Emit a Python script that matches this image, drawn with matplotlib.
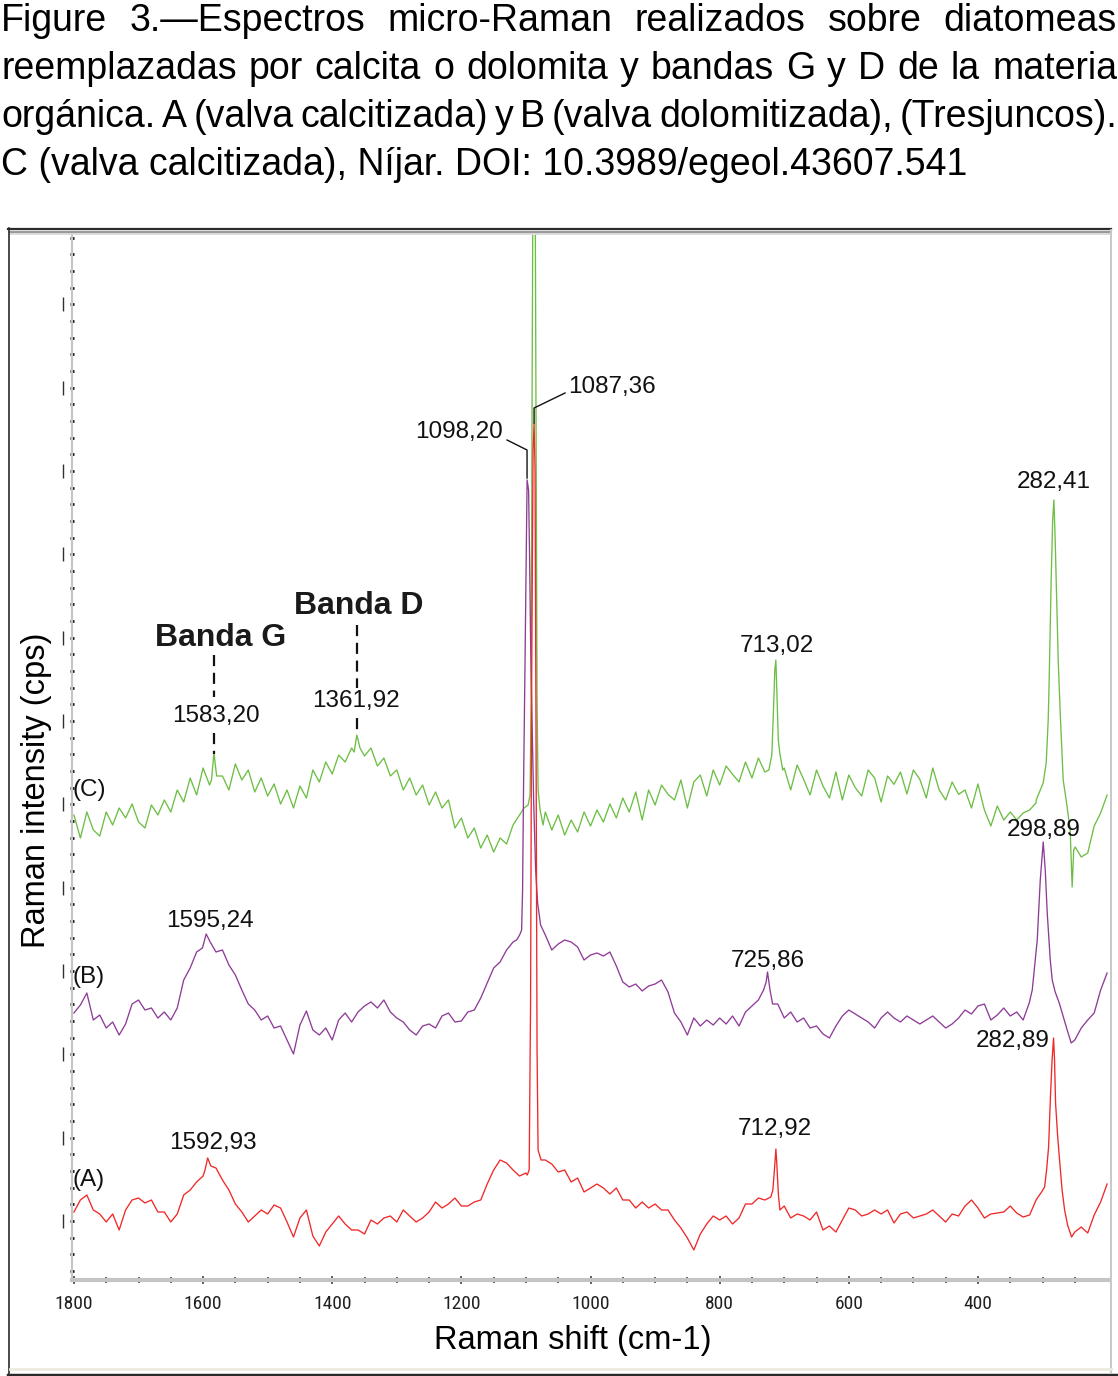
import numpy as np
import matplotlib
matplotlib.use("Agg")
import matplotlib.pyplot as plt
from matplotlib import font_manager
from matplotlib.ticker import FixedLocator, MultipleLocator
from matplotlib.transforms import blended_transform_factory
from matplotlib.lines import Line2D

# ---- datos (Raman shift en cm-1, intensidad en cps) ----
shift_grid = np.arange(1800, 199, -10)

red_counts = [554, 626, 656, 566, 542, 494, 542, 446, 566, 626,
              638, 608, 626, 554, 554, 494, 542, 656, 686, 734,
              770, 854, 818, 746, 686, 602, 554, 494, 530, 566,
              542, 596, 578, 494, 404, 518, 566, 410, 350, 434,
              482, 530, 482, 446, 446, 422, 506, 482, 518, 530,
              494, 566, 530, 494, 518, 554, 614, 578, 602, 638,
              590, 590, 614, 626, 722, 806, 866, 848, 806, 770,
              788, 1800, 1200, 866, 842, 794, 806, 734, 758, 674,
              698, 722, 698, 662, 698, 626, 626, 578, 614, 578,
              602, 566, 566, 506, 458, 398, 326, 422, 482, 530,
              506, 530, 482, 518, 602, 602, 638, 626, 662, 900,
              590, 518, 542, 530, 506, 554, 446, 470, 434, 506,
              578, 566, 530, 542, 566, 542, 566, 488, 542, 554,
              518, 530, 542, 566, 530, 494, 542, 530, 590, 626,
              578, 518, 542, 548, 554, 590, 548, 524, 536, 626,
              700, 1000, 1500, 1100, 560, 434, 464, 428, 536, 614,
              722]

purple_counts = [1748, 1796, 1868, 1706, 1736, 1658, 1694, 1616, 1682, 1802,
                 1826, 1766, 1778, 1718, 1754, 1706, 1778, 1946, 2018, 2114,
                 2126, 2210, 2114, 2126, 2036, 1976, 1886, 1802, 1766, 1706,
                 1730, 1658, 1670, 1586, 1502, 1676, 1760, 1646, 1616, 1658,
                 1586, 1706, 1748, 1694, 1754, 1790, 1814, 1778, 1826, 1754,
                 1718, 1694, 1646, 1616, 1670, 1682, 1658, 1730, 1748, 1694,
                 1700, 1754, 1766, 1838, 1928, 2018, 2054, 2126, 2174, 2216,
                 3000, 3000, 2408, 2216, 2126, 2162, 2186, 2174, 2144, 2066,
                 2096, 2108, 2090, 2114, 2030, 1934, 1904, 1922, 1880, 1910,
                 1922, 1946, 1874, 1748, 1694, 1616, 1718, 1670, 1706, 1676,
                 1718, 1682, 1730, 1670, 1754, 1790, 1826, 1916, 1958, 1802,
                 1718, 1754, 1694, 1718, 1658, 1670, 1622, 1598, 1670, 1730,
                 1766, 1742, 1718, 1694, 1658, 1718, 1754, 1718, 1694, 1730,
                 1706, 1682, 1706, 1730, 1694, 1658, 1682, 1718, 1766, 1742,
                 1790, 1802, 1706, 1736, 1778, 1730, 1754, 1706, 2000, 2000,
                 2700, 2400, 1900, 1800, 1700, 1586, 1658, 1706, 1748, 1886,
                 1988]

green_counts = [2936, 2798, 2954, 2846, 2810, 2954, 2876, 2978, 2918, 3002,
                2894, 2858, 2996, 2936, 3026, 2954, 3086, 3014, 3158, 3056,
                3218, 3116, 3194, 3170, 3086, 3242, 3146, 3206, 3074, 3158,
                3050, 3122, 3002, 3086, 2978, 3110, 3038, 3206, 3134, 3254,
                3182, 3296, 3254, 3338, 3386, 3290, 3338, 3230, 3278, 3170,
                3206, 3086, 3158, 3056, 3116, 2996, 3074, 2978, 3026, 2858,
                2918, 2798, 2858, 2738, 2816, 2714, 2798, 2762, 2876, 2936,
                2978, 5000, 5000, 2954, 2846, 2936, 2816, 2906, 2834, 2954,
                2870, 2966, 2894, 3002, 2918, 3038, 2954, 3074, 2906, 3086,
                2996, 3116, 3060, 3026, 3146, 2978, 3134, 3176, 3050, 3206,
                3116, 3230, 3180, 3134, 3254, 3158, 3278, 3194, 3314, 3800,
                3218, 3086, 3236, 3150, 3056, 3206, 3110, 3038, 3194, 3026,
                3176, 3100, 3050, 3206, 3158, 3014, 3170, 3120, 3194, 3062,
                3206, 3150, 3038, 3218, 3086, 3026, 3134, 3060, 3086, 2978,
                3122, 2966, 2870, 2990, 2906, 2954, 2906, 2948, 2966, 3008,
                3116, 3500, 4500, 3500, 3000, 2800, 2684, 2708, 2870, 2948,
                3056]

# bandas (puntos finos alrededor de cada pico)
red_1593_shift = [1597, 1592.9, 1588]
red_1593_counts = [806, 878, 830]
red_1087_shift = [1098, 1095, 1092.8, 1091.3, 1089, 1087.4, 1085.9, 1084.3, 1082.8, 1081.2, 1076.6]
red_1087_counts = [776, 806, 1826, 3626, 5126, 5288, 5006, 3326, 1526, 926, 866]
red_713_shift = [720.7, 717.6, 715.2, 712.9, 711.4, 709.0, 706.7]
red_713_counts = [644, 686, 806, 932, 836, 656, 566]
red_283_shift = [301.5, 296.8, 293.7, 290.6, 287.5, 285.2, 282.9, 281.4, 279.8, 276.7, 273.6, 269.7, 265.8, 261.2, 255.0]
red_283_counts = [674, 704, 806, 944, 1268, 1466, 1598, 1466, 1208, 1016, 866, 686, 566, 476, 404]

purple_1595_shift = [1601, 1595.2, 1589]
purple_1595_counts = [2138, 2222, 2174]
purple_1098_shift = [1114.5, 1109.8, 1106.7, 1105.2, 1103.6, 1102.1, 1099.7, 1098.2, 1095.9, 1094.3,
                     1092.8, 1091.2, 1088.1, 1085.0, 1081.9, 1077.3]
purple_1098_counts = [2186, 2216, 2246, 2486, 3146, 3626, 4466, 4946, 4886, 4466,
                      3986, 3626, 3026, 2606, 2408, 2276]
purple_726_shift = [732, 728, 725.9, 722, 718]
purple_726_counts = [1886, 1934, 1994, 1886, 1802]
purple_299_shift = [320.6, 315.9, 312.8, 308.2, 303.5, 298.9, 295.8, 292.7, 288.0, 285.0,
                    280.4, 274.1, 266.4, 261.8, 255.6]
purple_299_counts = [1808, 1886, 2006, 2186, 2546, 2774, 2606, 2348, 2066, 1946,
                     1874, 1808, 1706, 1646, 1568]

green_1583_shift = [1587, 1583.2, 1579]
green_1583_counts = [3146, 3308, 3170]
green_1362_shift = [1366, 1361.9, 1357]
green_1362_counts = [3314, 3416, 3338]
green_1087_shift = [1102.9, 1096.7, 1093.6, 1092, 1090.5, 1089, 1087.4, 1085.9, 1084.3, 1082.8,
                    1081.2, 1078.1, 1073.5]
green_1087_counts = [2978, 2996, 3056, 3626, 5426, 6926, 9026, 6926, 5126, 3626,
                     3086, 2966, 2876]
green_713_shift = [723.8, 719.2, 716.1, 714.6, 713.0, 711.5, 709.2, 706.9, 702.3]
green_713_counts = [3206, 3296, 3626, 3806, 3866, 3686, 3386, 3308, 3206]
green_282_shift = [309.8, 299, 294.3, 291.2, 289.7, 286.6, 284.3, 282.4, 280.4, 278.8,
                   275.7, 272.6, 268, 263.4, 257.2, 254.1, 251.7, 249.4]
green_282_counts = [3026, 3128, 3248, 3506, 3746, 4346, 4706, 4826, 4586, 4346,
                    3866, 3548, 3146, 3026, 2846, 2504, 2726, 2744]

caption = ["Figure 3.\u2014Espectros micro-Raman realizados sobre diatomeas",
           "reemplazadas por calcita o dolomita y bandas G y D de la materia",
           "orgánica. A (valva calcitizada) y B (valva dolomitizada), (Tresjuncos).",
           "C (valva calcitizada), Níjar. DOI: 10.3989/egeol.43607.541"]

x_major = [1800, 1600, 1400, 1200, 1000, 800, 600, 400]


def spectrum(counts, bands):
    x = np.asarray(shift_grid, float)
    y = np.asarray(counts, float)
    keep = np.ones(len(x), bool)
    for bx, by in bands:
        keep &= ~((x > min(bx)) & (x < max(bx)))
    xs = np.concatenate([x[keep]] + [np.asarray(b[0], float) for b in bands])
    ys = np.concatenate([y[keep]] + [np.asarray(b[1], float) for b in bands])
    o = np.argsort(-xs)
    return xs[o], ys[o]


# fuente estrecha para los números del eje x, si hay alguna
narrow = None
for name in ['Liberation Sans Narrow', 'Roboto Condensed', 'Open Sans Condensed', 'Arial Narrow']:
    try:
        font_manager.findfont(font_manager.FontProperties(family=name), fallback_to_default=False)
        narrow = dict(family=[name, 'DejaVu Sans'])
        break
    except ValueError:
        pass
if narrow is None:
    p = font_manager.findfont(font_manager.FontProperties(family='DejaVu Sans', stretch='condensed'))
    if 'Condensed' in p:
        narrow = dict(family=['DejaVu Sans'], stretch='condensed')
    else:
        narrow = dict(family=['Liberation Sans', 'DejaVu Sans'])

W, H = 1118, 1376
plt.rcParams['font.family'] = ['Liberation Sans', 'DejaVu Sans']
fig = plt.figure(figsize=(W / 100, H / 100), dpi=100)
ax = fig.add_axes([72 / W, 1 - 1280 / H, 1036 / W, (1280 - 235) / H])

green_x, green_y = spectrum(green_counts, [(green_1583_shift, green_1583_counts),
                                           (green_1362_shift, green_1362_counts),
                                           (green_1087_shift, green_1087_counts),
                                           (green_713_shift, green_713_counts),
                                           (green_282_shift, green_282_counts)])
purple_x, purple_y = spectrum(purple_counts, [(purple_1595_shift, purple_1595_counts),
                                              (purple_1098_shift, purple_1098_counts),
                                              (purple_726_shift, purple_726_counts),
                                              (purple_299_shift, purple_299_counts)])
red_x, red_y = spectrum(red_counts, [(red_1593_shift, red_1593_counts),
                                     (red_1087_shift, red_1087_counts),
                                     (red_713_shift, red_713_counts),
                                     (red_283_shift, red_283_counts)])

ax.plot(green_x, green_y, color='#6dbe45', lw=0.95)
ax.plot(purple_x, purple_y, color='#8e3c97', lw=0.95)
ax.plot(red_x, red_y, color='#f02828', lw=0.95)

ax.set_xlim(1803, 198.6)
ax.set_ylim(146, 6416)

# ejes
for s in ['top', 'right']:
    ax.spines[s].set_visible(False)
ax.spines['bottom'].set_color('#c4c4c4')
ax.spines['bottom'].set_linewidth(3.0)
ax.spines['left'].set_color('#c4c4c4')
ax.spines['left'].set_linewidth(1.5)

ax.xaxis.set_major_locator(FixedLocator(x_major))
ax.xaxis.set_minor_locator(FixedLocator([v for v in range(250, 1800, 50) if v not in x_major]))
ax.yaxis.set_major_locator(MultipleLocator(500))
ax.yaxis.set_minor_locator(MultipleLocator(100))
ax.set_yticklabels([])
ax.tick_params(axis='x', which='major', direction='inout', length=6, width=1.2, color='#404040', pad=8)
ax.tick_params(axis='x', which='minor', direction='inout', length=4, width=1.2, color='#404040')
ax.tick_params(axis='y', which='both', direction='inout', length=2.6, width=2.0, color='#151515')
ax.set_xticklabels([str(v) for v in x_major], fontsize=14, color='#202020', **narrow)

# marcas verticales a la izquierda del eje y
yt = [v for v in range(500, 6001, 500)]
tr = blended_transform_factory(ax.transAxes, ax.transData)
ax.plot([-9 / 1036] * len(yt), yt, ls='none', marker='|', markersize=10.5, mew=1.0,
        color='#303030', transform=tr, clip_on=False)

# etiquetas de picos
lab = dict(fontsize=17.5, color='#111111')
ax.text(1034.8, 5504, '1087,36', ha='left', va='center', **lab)
ax.plot([1039.5, 1087.4, 1087.4], [5468, 5378, 5288], color='#111111', lw=1.0)
ax.text(1135.5, 5234, '1098,20', ha='right', va='center', **lab)
ax.plot([1129.3, 1098.3, 1098.3], [5186, 5126, 4958], color='#111111', lw=1.0)
ax.text(282.4, 4934, '282,41', ha='center', va='center', **lab)
ax.text(298.9, 2846, '298,89', ha='center', va='center', **lab)
ax.text(289, 1580, '282,89', ha='right', va='center', **lab)
ax.text(725.1, 2060, '725,86', ha='center', va='center', **lab)
ax.text(714, 1052, '712,92', ha='center', va='center', **lab)
ax.text(712, 3950, '713,02', ha='center', va='center', **lab)
ax.text(1589.3, 2300, '1595,24', ha='center', va='center', **lab)
ax.text(1584.6, 968, '1592,93', ha='center', va='center', **lab)
ax.text(1580, 3530, '1583,20', ha='center', va='center', **lab)
ax.text(1363.2, 3620, '1361,92', ha='center', va='center', **lab)
ax.text(1776.7, 3086, '(C)', ha='center', va='center', **lab)
ax.text(1776.7, 1964, '(B)', ha='center', va='center', **lab)
ax.text(1778, 746, '(A)', ha='center', va='center', **lab)

ax.text(1572.2, 3998, 'Banda G', ha='center', va='center', fontsize=23, weight='bold', color='#1a1a1a')
ax.text(1358.5, 4190, 'Banda D', ha='center', va='center', fontsize=23, weight='bold', color='#1a1a1a')
dash = dict(color='#111111', lw=1.6, ls=(0, (5, 3)))
ax.plot([1583.2, 1583.2], [3896, 3644], **dash)
ax.plot([1583.2, 1583.2], [3428, 3300], **dash)
ax.plot([1361.9, 1361.9], [4076, 3698], **dash)
ax.plot([1361.9, 1361.9], [3518, 3420], **dash)

fig.text(573 / W, 1 - 1341 / H, 'Raman shift (cm-1)', ha='center', va='center', fontsize=23.5)
fig.text(37 / W, 1 - 790 / H, 'Raman intensity (cps)', ha='center', va='center', rotation=90, fontsize=23.5)

# marco del panel
def fline(xs, ys, **kw):
    fig.add_artist(Line2D([x / W for x in xs], [1 - y / H for y in ys], transform=fig.transFigure, **kw))

fline([8, 1111], [228.5, 228.5], color='#2a2a2a', lw=1.6)
fline([10, 1111], [231.5, 231.5], color='#9a9a9a', lw=1.6)
fline([10, 1111], [233.5, 233.5], color='#d6d6d6', lw=1.2)
fline([9, 9], [228, 1376], color='#2a2a2a', lw=1.2)
fline([1111, 1111], [230, 1372], color='#c8c8c8', lw=1.4)
fline([10, 1111], [1369, 1369], color='#ece9de', lw=2.0)
fline([8, 1118], [1374.5, 1374.5], color='#2a2a2a', lw=2.5)

# pie de figura (justificado)
r = fig.canvas.get_renderer()
base = [31, 79, 127, 175]
for i, line in enumerate(caption):
    yy = 1 - base[i] / H
    if i == len(caption) - 1:
        fig.text(1 / W, yy, line, ha='left', va='baseline', fontsize=27)
        continue
    words = line.split(' ')
    ts = [fig.text(0, yy, w_, ha='left', va='baseline', fontsize=27) for w_ in words]
    widths = [t.get_window_extent(r).width for t in ts]
    gap = (1116 - sum(widths)) / (len(words) - 1)
    xpos = 1.0
    for t, wd in zip(ts, widths):
        t.set_x(xpos / W)
        xpos += wd + gap

fig.savefig('out.png', dpi=100)
